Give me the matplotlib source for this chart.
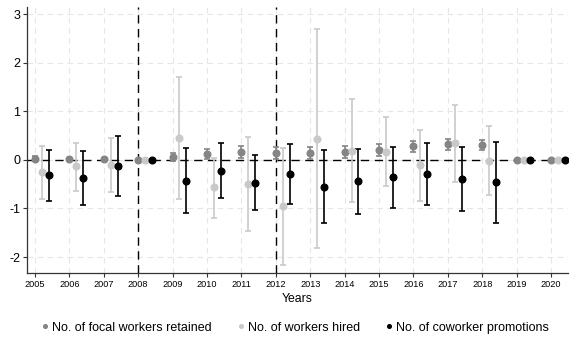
import numpy as np
import matplotlib
matplotlib.use("Agg")
import matplotlib.pyplot as plt

plt.rcParams['font.family'] = ['Liberation Sans', 'DejaVu Sans']

years = list(range(2005, 2021))

# Point estimates and 95% confidence bounds per year
focal = [0.03, 0.02, 0.02, 0.0, 0.06, 0.12, 0.16, 0.14, 0.14, 0.17, 0.21, 0.28, 0.32, 0.31, 0.0, 0.0]
focal_lo = [-0.02, -0.01, 0.0, 0.0, -0.02, 0.03, 0.05, 0.01, 0.02, 0.05, 0.09, 0.16, 0.21, 0.20, 0.0, 0.0]
focal_hi = [0.08, 0.05, 0.04, 0.0, 0.14, 0.22, 0.28, 0.26, 0.26, 0.28, 0.32, 0.40, 0.43, 0.42, 0.0, 0.0]

hired = [-0.25, -0.13, -0.11, 0.0, 0.45, -0.56, -0.49, -0.95, 0.44, 0.19, 0.17, -0.11, 0.34, -0.02, 0.0, 0.0]
hired_lo = [-0.80, -0.63, -0.67, 0.0, -0.80, -1.19, -1.46, -2.16, -1.81, -0.86, -0.54, -0.84, -0.46, -0.73, 0.0, 0.0]
hired_hi = [0.28, 0.36, 0.45, 0.0, 1.71, 0.05, 0.47, 0.24, 2.69, 1.26, 0.88, 0.61, 1.13, 0.71, 0.0, 0.0]

promo = [-0.32, -0.37, -0.12, 0.0, -0.43, -0.23, -0.47, -0.29, -0.56, -0.44, -0.36, -0.28, -0.40, -0.46, 0.0, 0.0]
promo_lo = [-0.84, -0.92, -0.75, 0.0, -1.10, -0.79, -1.04, -0.90, -1.30, -1.11, -1.00, -0.93, -1.06, -1.29, 0.0, 0.0]
promo_hi = [0.20, 0.19, 0.50, 0.0, 0.24, 0.35, 0.10, 0.32, 0.20, 0.22, 0.26, 0.36, 0.26, 0.37, 0.0, 0.0]

series = [
    ("No. of focal workers retained", focal, focal_lo, focal_hi, "#858585", 0.0),
    ("No. of workers hired", hired, hired_lo, hired_hi, "#c9c9c9", 0.2),
    ("No. of coworker promotions", promo, promo_lo, promo_hi, "#000000", 0.4),
]

fig = plt.figure(figsize=(5.71, 3.40), dpi=100)
ax = fig.add_axes([0.0473, 0.197, 0.948, 0.782])

ax.grid(True, color="#e6e6e6", linestyle=(0, (5, 4)), linewidth=0.8)
ax.set_axisbelow(True)

ax.axhline(0, color="black", linestyle=(0, (6, 4)), linewidth=1.0, zorder=1)
for xv in (2008, 2012):
    ax.axvline(xv, color="black", linestyle=(0, (6, 4)), linewidth=1.0, zorder=1)

handles = []
for label, est, lo, hi, col, off in series:
    x = np.array(years) + off
    est = np.array(est)
    yerr = np.vstack([est - np.array(lo), np.array(hi) - est])
    ax.errorbar(x, est, yerr=yerr, fmt="none", ecolor=col, elinewidth=1.2,
                capsize=2, capthick=1.2, zorder=3)
    h, = ax.plot(x, est, "o", color=col, markersize=4.8, zorder=4, label=label)
    handles.append(h)

ax.set_xlim(2004.77, 2020.5)
ax.set_ylim(-2.33, 3.15)
ax.set_xticks(years)
ax.set_xticklabels([str(y) for y in years], fontsize=6.6)
ax.set_yticks([-2, -1, 0, 1, 2, 3])
ax.set_yticklabels(["-2", "-1", "0", "1", "2", "3"], fontsize=9)
ax.tick_params(axis="both", length=3, width=0.8, color="#333333", pad=2)
ax.set_xlabel("Years", fontsize=8.8, labelpad=3)

for s in ("top", "right"):
    ax.spines[s].set_visible(False)
for s in ("left", "bottom"):
    ax.spines[s].set_color("#333333")
    ax.spines[s].set_linewidth(0.9)

fig.legend(handles=handles, loc="center", bbox_to_anchor=(0.5175, 0.036),
           ncol=3, frameon=False, fontsize=9, markerscale=0.55,
           handlelength=0.5, handletextpad=0.3, columnspacing=2.1,
           borderpad=0, borderaxespad=0)

fig.savefig("out.png", dpi=100)
